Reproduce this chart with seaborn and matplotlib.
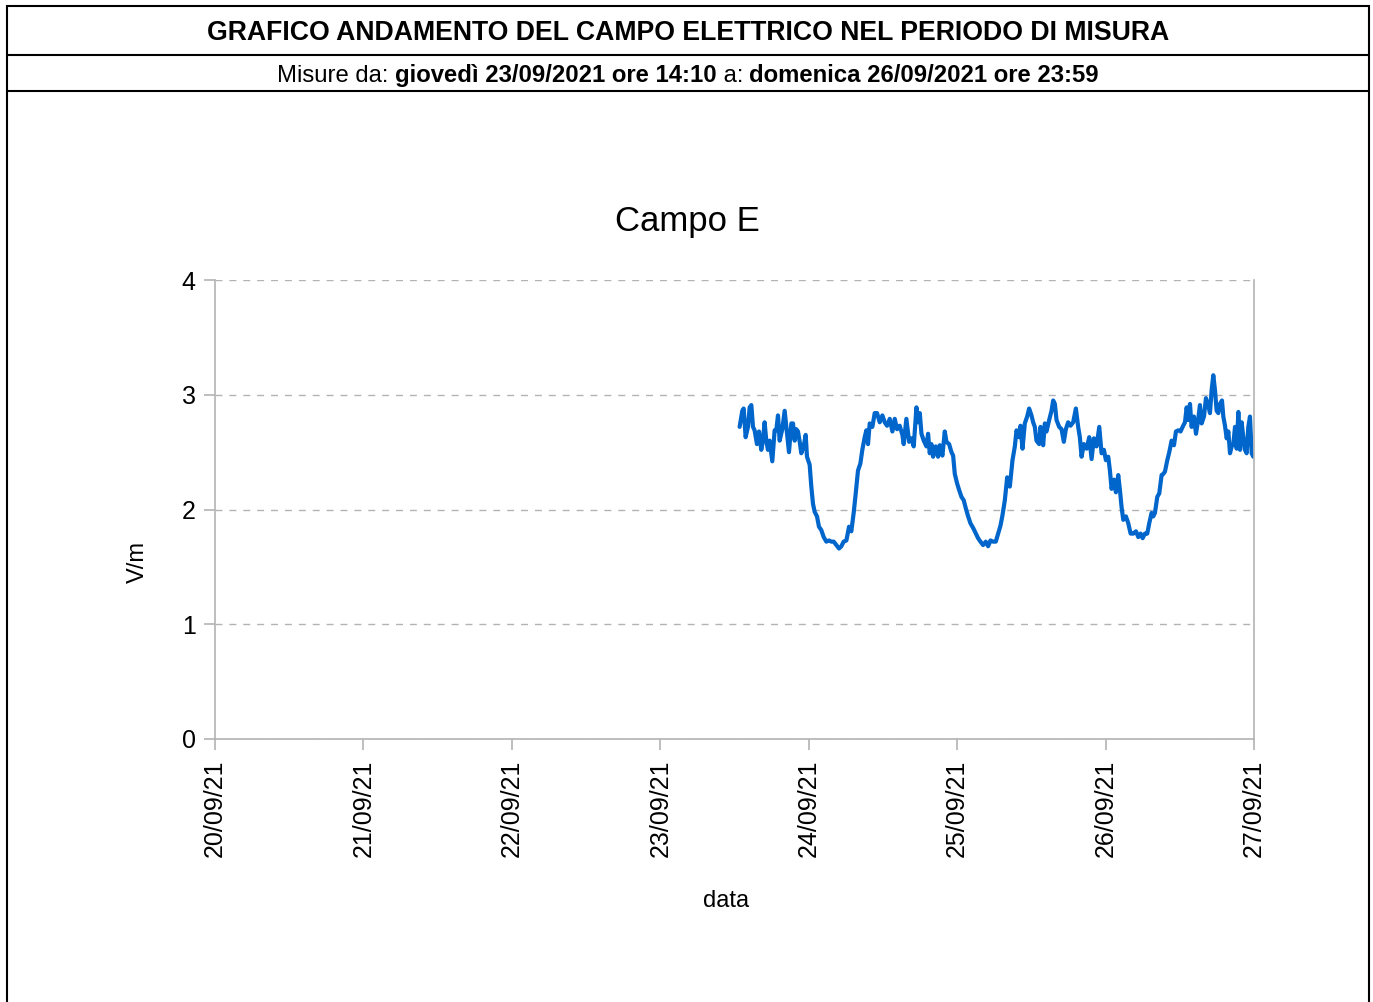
import matplotlib
matplotlib.use("Agg")
import matplotlib.pyplot as plt
import matplotlib.dates as mdates
from matplotlib.patches import Rectangle
from matplotlib.lines import Line2D
import seaborn as sns
import pandas as pd

# ---- data: hours since 23/09/2021 00:00 and field value (V/m)
hours = [12.83, 13.26, 13.48, 13.80, 14.18, 14.45, 14.72, 14.99, 15.25, 15.63, 15.96, 16.33, 16.60, 16.87,
         17.14, 17.41, 17.68, 18.11, 18.49, 18.76, 19.03, 19.30, 19.73, 20.11, 20.38, 20.81, 21.19, 21.46,
         21.73, 21.98, 22.27, 22.54, 22.80, 23.18, 23.51, 23.72, 24.15, 24.42, 24.69, 24.96, 25.34, 25.66,
         26.04, 26.42, 26.85, 27.28, 27.66, 28.04, 28.47, 28.90, 29.28, 29.65, 30.09, 30.52, 30.89, 31.27,
         31.60, 31.97, 32.35, 32.67, 33.05, 33.32, 33.59, 33.86, 34.29, 34.67, 35.05, 35.48, 35.91, 36.29,
         36.67, 37.10, 37.53, 37.91, 38.28, 38.71, 39.15, 39.36, 39.79, 40.23,
         40.61, 40.98, 41.42, 41.69, 41.96, 42.23, 42.60, 43.03, 43.30, 43.57, 43.84, 44.11, 44.54, 44.92,
         45.19, 45.62, 46.00, 46.27, 46.70, 47.08, 47.35, 47.62, 47.98, 48.32, 48.70, 49.07, 49.40, 49.78,
         50.15, 50.58, 51.02, 51.39, 51.77, 52.20, 52.63, 53.01, 53.39, 53.82, 54.25, 54.63, 55.01, 55.33,
         55.71, 56.09, 56.52, 56.95, 57.33, 57.60, 58.03, 58.24, 58.57, 58.94, 59.32, 59.64, 60.02, 60.29,
         60.56, 60.83, 61.26, 61.48, 61.91, 62.18, 62.45, 62.88, 63.26, 63.53, 63.80, 64.07, 64.50, 64.88,
         65.25, 65.58, 65.95, 66.33, 66.76, 67.20, 67.57, 67.84,
         68.12, 68.49, 68.93, 69.36, 69.74, 70.11, 70.54, 70.98, 71.35, 71.73, 72.05, 72.43, 72.70, 72.97,
         73.35, 73.67, 74.05, 74.32, 74.59, 74.86, 75.29, 75.67, 76.05, 76.48, 76.91, 77.29, 77.66, 77.99,
         78.36, 78.74, 79.06, 79.44, 79.71, 79.98, 80.36, 80.68, 81.06, 81.33, 81.60, 81.98, 82.30, 82.68,
         83.06, 83.38, 83.76, 84.13, 84.46, 84.84, 85.11, 85.38, 85.65, 85.91, 86.29, 86.62, 86.99, 87.26,
         87.53, 87.91, 88.23, 88.61, 88.88, 89.15, 89.42, 89.69, 89.96, 90.23, 90.50, 90.82, 91.04, 91.31,
         91.58, 91.85, 92.12, 92.39, 92.66, 92.93, 93.20, 93.47, 93.74, 94.00, 94.27, 94.54, 94.81, 95.08,
         95.35, 95.62, 95.89]
campo_e = [2.72, 2.86, 2.88, 2.63, 2.72, 2.89, 2.91, 2.72, 2.69, 2.57, 2.68, 2.52, 2.60, 2.76,
           2.60, 2.52, 2.60, 2.42, 2.69, 2.69, 2.82, 2.60, 2.70, 2.86, 2.72, 2.50, 2.75, 2.75,
           2.60, 2.70, 2.68, 2.59, 2.49, 2.55, 2.65, 2.46, 2.39, 2.20, 2.05, 1.98, 1.94, 1.85,
           1.82, 1.76, 1.72, 1.73, 1.72, 1.72, 1.69, 1.66, 1.68, 1.72, 1.73, 1.85, 1.81, 1.97,
           2.14, 2.34, 2.40, 2.52, 2.63, 2.69, 2.57, 2.75, 2.72, 2.84, 2.84, 2.76, 2.82, 2.76,
           2.73, 2.79, 2.68, 2.79, 2.70, 2.73, 2.65, 2.57, 2.79, 2.59,
           2.62, 2.55, 2.89, 2.76, 2.84, 2.66, 2.60, 2.55, 2.66, 2.49, 2.57, 2.46, 2.55, 2.46,
           2.56, 2.47, 2.68, 2.59, 2.57, 2.50, 2.47, 2.31, 2.23, 2.17, 2.11, 2.08, 2.01, 1.94,
           1.88, 1.84, 1.79, 1.75, 1.72, 1.69, 1.72, 1.68, 1.73, 1.72, 1.72, 1.79, 1.86, 1.95,
           2.08, 2.28, 2.20, 2.43, 2.55, 2.69, 2.63, 2.73, 2.53, 2.75, 2.81, 2.88, 2.82, 2.76,
           2.72, 2.60, 2.57, 2.72, 2.56, 2.75, 2.68, 2.78, 2.86, 2.95, 2.92, 2.78, 2.72, 2.70,
           2.59, 2.70, 2.76, 2.73, 2.76, 2.88, 2.72, 2.63,
           2.46, 2.57, 2.53, 2.63, 2.44, 2.62, 2.55, 2.72, 2.49, 2.52, 2.43, 2.46, 2.34, 2.18,
           2.26, 2.15, 2.30, 2.17, 2.02, 1.91, 1.94, 1.88, 1.79, 1.79, 1.81, 1.76, 1.79, 1.75,
           1.79, 1.79, 1.88, 1.97, 1.94, 1.97, 2.11, 2.14, 2.30, 2.31, 2.33, 2.43, 2.50, 2.60,
           2.56, 2.68, 2.69, 2.68, 2.72, 2.76, 2.89, 2.78, 2.92, 2.72, 2.81, 2.66, 2.79, 2.91,
           2.75, 2.81, 2.97, 2.91, 2.84, 3.04, 3.17, 3.04, 2.86, 2.84, 2.92, 2.95, 2.81, 2.73,
           2.62, 2.68, 2.49, 2.55, 2.57, 2.72, 2.53, 2.85, 2.52, 2.76, 2.63, 2.52, 2.49, 2.72,
           2.81, 2.49, 2.46]

y_ticks = [0, 1, 2, 3, 4]
main_title = "GRAFICO ANDAMENTO DEL CAMPO ELETTRICO NEL PERIODO DI MISURA"
sub_parts = [("Misure da: ", "normal"), ("giovedì 23/09/2021 ore 14:10", "bold"),
             (" a: ", "normal"), ("domenica 26/09/2021 ore 23:59", "bold")]
chart_title = "Campo E"
x_label = "data"
y_label = "V/m"

# ---- style
sns.set_theme(style="white")
plt.rcParams["font.family"] = ["Liberation Sans", "DejaVu Sans"]
plt.rcParams["text.color"] = "black"
plt.rcParams["axes.labelcolor"] = "black"
plt.rcParams["xtick.color"] = "black"
plt.rcParams["ytick.color"] = "black"

base = pd.Timestamp("2021-09-23")
df = pd.DataFrame({"data": base + pd.to_timedelta(hours, unit="h"), "campo": campo_e})

fig = plt.figure(figsize=(13.73, 10.02), dpi=100)
fig.patch.set_facecolor("white")
ax = fig.add_axes([215 / 1373, 1 - 739 / 1002, (1254 - 215) / 1373, (739 - 280) / 1002])

sns.lineplot(data=df, x="data", y="campo", ax=ax, color="#0066cc", linewidth=3.0,
             estimator=None, sort=False)

ax.set_xlim(pd.Timestamp("2021-09-20"), pd.Timestamp("2021-09-27"))
ax.set_ylim(0, 4)
ax.set_yticks(y_ticks)
ax.xaxis.set_major_locator(mdates.DayLocator())
ax.xaxis.set_major_formatter(mdates.DateFormatter("%d/%m/%y"))
ax.set_xlabel("")
ax.set_ylabel("")

grid_col = "#b3b3b3"
ax.yaxis.grid(True, color=grid_col, linestyle=(0, (5, 5)), linewidth=1.0)
ax.xaxis.grid(False)
for side in ["left", "bottom", "right"]:
    ax.spines[side].set_visible(True)
    ax.spines[side].set_color(grid_col)
    ax.spines[side].set_linewidth(1.2)
ax.spines["top"].set_visible(False)
ax.tick_params(axis="both", which="major", direction="out", length=8, width=1.2,
               color=grid_col, labelsize=18, labelcolor="black", pad=6,
               bottom=True, left=True)
ax.tick_params(axis="x", pad=7)
for lab in ax.get_xticklabels():
    lab.set_rotation(90)
    lab.set_ha("center")
    lab.set_va("top")

# ---- texts
fig.text(687 / 1373, 1 - 221 / 1002, chart_title, ha="center", va="center", fontsize=25, color="black")
fig.text(726 / 1373, 1 - 901 / 1002, x_label, ha="center", va="center", fontsize=17, color="black")
fig.text(138 / 1373, 1 - 562 / 1002, y_label, ha="center", va="center", fontsize=17, rotation=90,
         color="black")

fig.text(688 / 1373, 1 - 33 / 1002, main_title, ha="center", va="center",
         fontsize=19.2, fontweight="bold", color="black")

# subtitle with mixed weight, centered as a whole
renderer = fig.canvas.get_renderer()
pieces = []
for txt, w in sub_parts:
    t = fig.text(0, 1 - 75.5 / 1002, txt, ha="left", va="center", fontsize=17.2, fontweight=w,
                 color="black")
    pieces.append(t)
widths = [p.get_window_extent(renderer).width for p in pieces]
total = sum(widths)
x0 = 688 - total / 2
for p, wd in zip(pieces, widths):
    p.set_x(x0 / 1373)
    x0 += wd

# ---- frame
fig.add_artist(Rectangle((7 / 1373, -0.05), (1369 - 7) / 1373, 1.05 - 6 / 1002,
                         transform=fig.transFigure, fill=False, edgecolor="black", linewidth=1.5))
for yy in (55, 91):
    fig.add_artist(Line2D([7 / 1373, 1369 / 1373], [1 - yy / 1002, 1 - yy / 1002],
                          transform=fig.transFigure, color="black", linewidth=1.5))

fig.savefig("out.png", dpi=100)
